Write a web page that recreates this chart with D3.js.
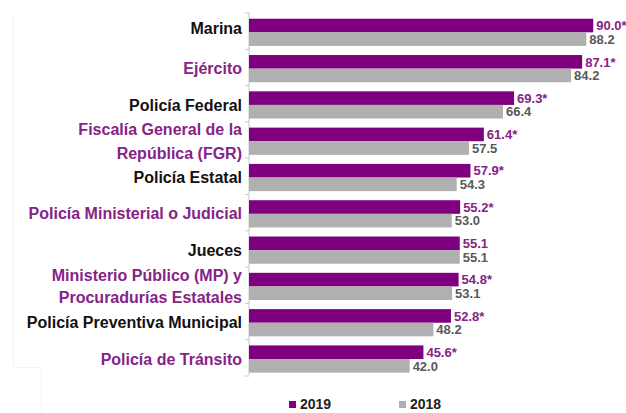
<!DOCTYPE html>
<html>
<head>
<meta charset="utf-8">
<script src="https://cdn.jsdelivr.net/npm/d3@7"></script>
<style>
    html, body { margin: 0; padding: 0; background: #fff; }
    svg { display: block; font-family: "Liberation Sans", Arial, sans-serif; font-weight: bold; }
</style>
</head>
<body>
<div id="chart"></div>
<script>
// Confidence by institution, 2019 vs 2018
const categories = [
    "Marina",
    "Ejército",
    "Policía Federal",
    "Fiscalía General de la\nRepública (FGR)",
    "Policía Estatal",
    "Policía Ministerial o Judicial",
    "Jueces",
    "Ministerio Público (MP) y\nProcuradurías Estatales",
    "Policía Preventiva Municipal",
    "Policía de Tránsito"
];
const values2019 = [90.0, 87.1, 69.3, 61.4, 57.9, 55.2, 55.1, 54.8, 52.8, 45.6];
const values2018 = [88.2, 84.2, 66.4, 57.5, 54.3, 53.0, 55.1, 53.1, 48.2, 42.0];
const significant = [true, true, true, true, true, true, false, true, true, true];
const seriesNames = ["2019", "2018"];

const PURPLE = "#7f007f";
const PURPLE_TEXT = "#862386";
const GRAY = "#b0b0b0";
const GRAY_TEXT = "#595959";
const DARK = "#111";

const width = 626, height = 413;

const svg = d3.select("#chart").append("svg")
    .attr("width", width)
    .attr("height", height);

// ---------------------------------------------------------------------------
// Scales
// ---------------------------------------------------------------------------

const x = d3.scaleLinear().domain([0, 100]).range([249, 631.5]);
const y = d3.scaleBand().domain(categories).range([14, 377]);
const inner = d3.scaleBand().domain(seriesNames).range([y.bandwidth() * 0.13, y.bandwidth() * 0.88]);

// faint frame left over from the slide
svg.append("path")
    .attr("d", "M13.5,13.5 V367.5 H41.5 V413")
    .attr("fill", "none")
    .attr("stroke", "#f3f3f3");

// ---------------------------------------------------------------------------
// Axis (left, no labels — labels drawn separately)
// ---------------------------------------------------------------------------

const axisG = svg.append("g").attr("transform", `translate(${x(0)},0)`);
axisG.append("line")
    .attr("x1", 0).attr("x2", 0)
    .attr("y1", y.range()[0] - 1).attr("y2", y.range()[1] - 2)
    .attr("stroke", "#c8c8c8");
axisG.selectAll("line.tick")
    .data(d3.range(categories.length + 1))
    .join("line")
    .attr("class", "tick")
    .attr("x1", -4).attr("x2", 0)
    .attr("y1", i => y.range()[0] - 1 + i * y.step())
    .attr("y2", i => y.range()[0] - 1 + i * y.step())
    .attr("stroke", "#c8c8c8");

// ---------------------------------------------------------------------------
// Bars
// ---------------------------------------------------------------------------

const rows = categories.map((c, i) => ({
    cat: c, i,
    v19: values2019[i], v18: values2018[i], sig: significant[i]
}));

const groups = svg.selectAll("g.row")
    .data(rows)
    .join("g")
    .attr("class", "row")
    .attr("transform", d => `translate(0,${y(d.cat)})`);

groups.append("rect")
    .attr("x", x(0))
    .attr("y", inner("2019"))
    .attr("width", d => x(d.v19) - x(0))
    .attr("height", inner.bandwidth())
    .attr("fill", PURPLE);

groups.append("rect")
    .attr("x", x(0))
    .attr("y", inner("2018"))
    .attr("width", d => x(d.v18) - x(0))
    .attr("height", inner.bandwidth())
    .attr("fill", GRAY);

// value labels
groups.append("text")
    .attr("x", d => x(d.v19) + 3)
    .attr("y", inner("2019") + inner.bandwidth() / 2)
    .attr("dy", "0.36em")
    .attr("font-size", "13px")
    .attr("fill", PURPLE_TEXT)
    .text(d => d3.format(".1f")(d.v19) + (d.sig ? "*" : ""));

groups.append("text")
    .attr("x", d => x(d.v18) + 3)
    .attr("y", inner("2018") + inner.bandwidth() / 2)
    .attr("dy", "0.36em")
    .attr("font-size", "13px")
    .attr("fill", GRAY_TEXT)
    .text(d => d3.format(".1f")(d.v18));

// ---------------------------------------------------------------------------
// Category labels
// ---------------------------------------------------------------------------

groups.each(function(d) {
    const lines = d.cat.split("\n");
    const lh = d.i === 3 ? 24 : 22;
    const shift = d.i === 0 ? -4 : 0;   // "Marina" sits a little high in the original
    const t = d3.select(this).append("text")
        .attr("text-anchor", "end")
        .attr("font-size", "16px")
        .attr("fill", d.i % 2 ? PURPLE_TEXT : DARK);
    lines.forEach((ln, k) => {
        t.append("tspan")
            .attr("x", 242)
            .attr("y", y.bandwidth() / 2 + shift + (k - (lines.length - 1) / 2) * lh)
            .attr("dy", "0.36em")
            .text(ln);
    });
});

// ---------------------------------------------------------------------------
// Legend
// ---------------------------------------------------------------------------

const legend = svg.append("g").attr("transform", "translate(289,0)");
const legendX = d3.scaleOrdinal().domain(seriesNames).range([0, 110]);
const legendColor = d3.scaleOrdinal().domain(seriesNames).range([PURPLE, GRAY]);

legend.selectAll("rect")
    .data(seriesNames)
    .join("rect")
    .attr("x", d => legendX(d))
    .attr("y", 401)
    .attr("width", 7)
    .attr("height", 7)
    .attr("fill", d => legendColor(d));

legend.selectAll("text")
    .data(seriesNames)
    .join("text")
    .attr("x", d => legendX(d) + 11)
    .attr("y", 409)
    .attr("font-size", "14px")
    .attr("fill", "#222")
    .text(d => d);
</script>
</body>
</html>
